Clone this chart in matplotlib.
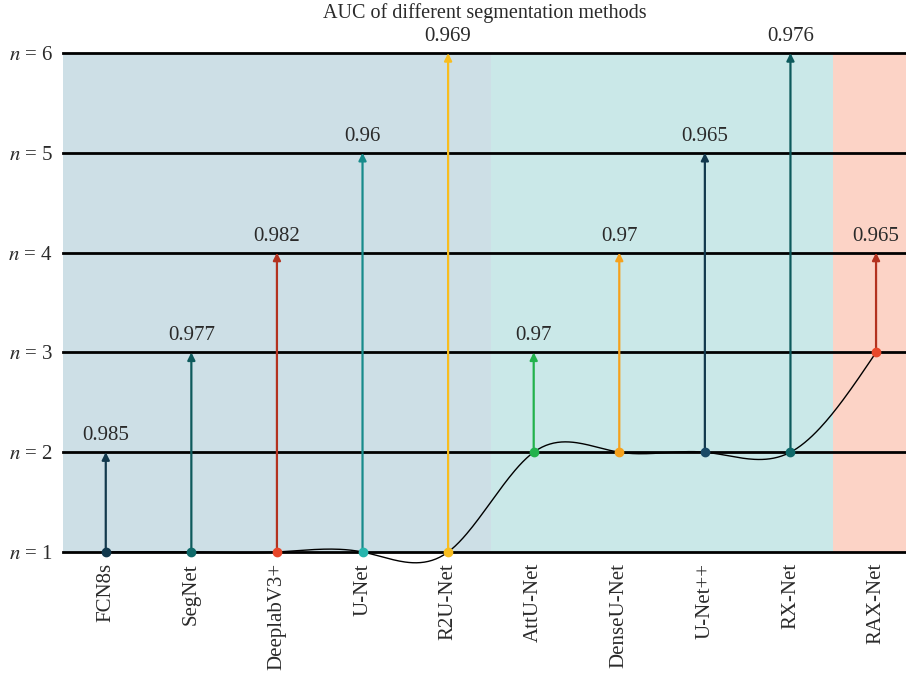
import numpy as np
import matplotlib.pyplot as plt

methods = ['FCN8s', 'SegNet', 'DeeplabV3+', 'U-Net', 'R2U-Net',
           'AttU-Net', 'DenseU-Net', 'U-Net++', 'RX-Net', 'RAX-Net']
base_n = [1, 1, 1, 1, 1, 2, 2, 2, 2, 3]
top_n = [2, 3, 4, 5, 6, 3, 4, 5, 6, 4]
auc = ['0.985', '0.977', '0.982', '0.96', '0.969',
       '0.97', '0.97', '0.965', '0.976', '0.965']
arrow_colors = ['#12394d', '#0d5a5c', '#b3321f', '#178b8b', '#f8bd1f',
                '#22b24c', '#f5a11c', '#12394d', '#0d5a5c', '#b3321f']
dot_colors = ['#12394d', '#0f6a6a', '#e8472a', '#27b5ad', '#f8bd1f',
              '#22b24c', '#f5a11c', '#1a4a66', '#0f6a6a', '#e8472a']
n_labels = ['$n$ = 1', '$n$ = 2', '$n$ = 3', '$n$ = 4', '$n$ = 5', '$n$ = 6']

plt.rcParams['font.family'] = 'Liberation Serif'
plt.rcParams['mathtext.fontset'] = 'stix'


def natural_spline(x, y, xs):
    x = np.asarray(x, float)
    y = np.asarray(y, float)
    n = len(x)
    h = np.diff(x)
    A = np.zeros((n, n))
    b = np.zeros(n)
    A[0, 0] = 1
    A[-1, -1] = 1
    for i in range(1, n - 1):
        A[i, i - 1] = h[i - 1]
        A[i, i] = 2 * (h[i - 1] + h[i])
        A[i, i + 1] = h[i]
        b[i] = 6 * ((y[i + 1] - y[i]) / h[i] - (y[i] - y[i - 1]) / h[i - 1])
    M = np.linalg.solve(A, b)
    out = np.empty_like(xs)
    for k, t in enumerate(xs):
        i = min(max(np.searchsorted(x, t) - 1, 0), n - 2)
        a = x[i + 1] - t
        c = t - x[i]
        out[k] = (M[i] * a ** 3 + M[i + 1] * c ** 3) / (6 * h[i]) \
            + (y[i] / h[i] - M[i] * h[i] / 6) * a \
            + (y[i + 1] / h[i] - M[i + 1] * h[i] / 6) * c
    return out


fig = plt.figure(figsize=(9.06, 6.73), dpi=100)
ax = fig.add_axes([0.0695, 0.1798, 0.9305, 0.7414])

x = np.arange(len(methods))
ax.set_xlim(-0.5, 9.35)
ax.set_ylim(1, 6)

ax.axvspan(-0.5, 4.5, color='#cddfe6', lw=0, zorder=0)
ax.axvspan(4.5, 8.5, color='#cae8e8', lw=0, zorder=0)
ax.axvspan(8.5, 9.35, color='#fcd3c6', lw=0, zorder=0)

for yv in range(1, 7):
    ax.axhline(yv, color='black', lw=2, zorder=1, clip_on=False)

xs = np.linspace(0, 9, 400)
ax.plot(xs, natural_spline(x, base_n, xs), color='black', lw=1, zorder=2, clip_on=False)

for i in range(len(methods)):
    ax.annotate('', xy=(x[i], top_n[i]), xytext=(x[i], base_n[i]),
                arrowprops=dict(arrowstyle='-|>', color=arrow_colors[i], lw=1.6,
                                mutation_scale=11, shrinkA=0, shrinkB=0),
                zorder=3, annotation_clip=False)
    ax.plot(x[i], base_n[i], 'o', color=dot_colors[i], ms=6, zorder=4, clip_on=False)
    ax.text(x[i], top_n[i] + 0.07, auc[i], ha='center', va='bottom',
            fontsize=15, color='#2a2a2a', clip_on=False)

ax.set_title('AUC of different segmentation methods', fontsize=14.5, pad=25, color='#2a2a2a')
ax.set_xticks(x)
ax.set_xticklabels(methods, rotation=90, fontsize=15, color='#2a2a2a')
ax.set_yticks(range(1, 7))
ax.set_yticklabels(n_labels, fontsize=15, color='#2a2a2a')
ax.tick_params(axis='y', length=0, pad=7)
ax.tick_params(axis='x', length=0, pad=8)
for s in ax.spines.values():
    s.set_visible(False)

fig.savefig('out.png', dpi=100)
